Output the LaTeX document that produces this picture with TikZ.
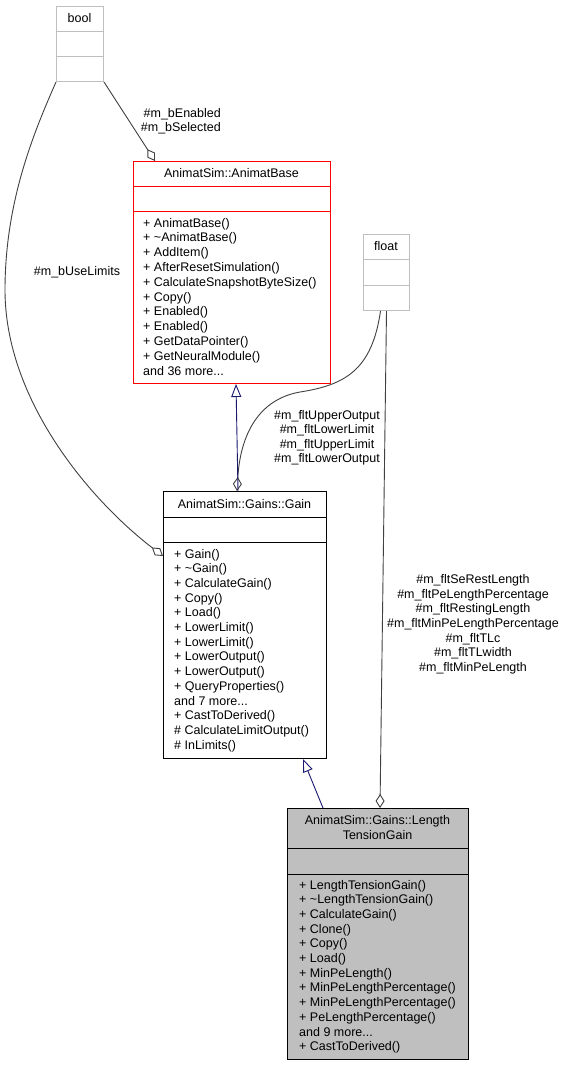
\documentclass[tikz,border=0pt]{standalone}
\usepackage{fontspec}
\setmainfont{Liberation Sans}
\usetikzlibrary{calc,arrows.meta}
\definecolor{edgegray}{HTML}{404040}
\definecolor{inh}{HTML}{191970}
\definecolor{boxgray}{HTML}{BFBFBF}
\newcommand\mydots{...}
\begin{document}
\begin{tikzpicture}[x=1bp,y=-1bp,
  txt/.style={inner sep=0pt, font=\fontsize{12.5bp}{14.7bp}\selectfont},
  mem/.style={txt, anchor=base west},
  ttl/.style={txt, anchor=base},
  cls/.style={draw, line width=1bp, anchor=north west, inner sep=0pt},
  agg/.style={draw=edgegray, line width=0.9bp, -{Diamond[open, length=14bp, width=9bp, fill=white]}},
  gen/.style={draw=inh, line width=0.9bp, -{Triangle[open, length=13bp, width=10bp, fill=white]}}]
\fill[white] (0,0) rectangle (565,1067);
\useasboundingbox (0,0) rectangle (565,1067);

% class boxes
\node[cls, draw=boxgray, minimum width=47bp, minimum height=75bp] (bool) at (56,6) {};
\node[cls, draw=red, minimum width=197bp, minimum height=222bp] (ab) at (133,161) {};
\node[cls, draw=boxgray, minimum width=46bp, minimum height=76bp] (float) at (363,234) {};
\node[cls, draw=black, minimum width=163bp, minimum height=267bp] (gain) at (163,491) {};
\node[cls, draw=black, fill=boxgray, minimum width=181bp, minimum height=251bp] (ltg) at (287,808) {};

% dividers
\foreach \d in {25,50} \draw[boxgray, line width=1bp] ($(bool.north west)+(0,\d)$) -- ($(bool.north east)+(0,\d)$);
\foreach \d in {25,50} \draw[red, line width=1bp] ($(ab.north west)+(0,\d)$) -- ($(ab.north east)+(0,\d)$);
\foreach \d in {25,51} \draw[boxgray, line width=1bp] ($(float.north west)+(0,\d)$) -- ($(float.north east)+(0,\d)$);
\foreach \d in {26,51} \draw[black, line width=1bp] ($(gain.north west)+(0,\d)$) -- ($(gain.north east)+(0,\d)$);
\foreach \d in {40,66} \draw[black, line width=1bp] ($(ltg.north west)+(0,\d)$) -- ($(ltg.north east)+(0,\d)$);

% titles
\node[ttl] (boolT) at (79.5,22.5) {bool};
\node[ttl] (abT) at (231.5,177.5) {AnimatSim::AnimatBase};
\node[ttl] (floatT) at (386,250.5) {float};
\node[ttl] (gainT) at (244.5,508) {AnimatSim::Gains::Gain};
\node[ttl] (ltgT1) at (377.5,824.5) {AnimatSim::Gains::Length};
\node[ttl] (ltgT2) at (377.5,839.5) {TensionGain};

% members
\foreach \t [count=\i from 0] in {+ AnimatBase(),+ \textasciitilde AnimatBase(),+ AddItem(),+ AfterResetSimulation(),+ CalculateSnapshotByteSize(),+ Copy(),+ Enabled(),+ Enabled(),+ GetDataPointer(),+ GetNeuralModule(),and 36 more\mydots}
  \node[mem] (abm-\i) at (143,227+14.8*\i) {\t};
\foreach \t [count=\i from 0] in {+ Gain(),+ \textasciitilde Gain(),+ CalculateGain(),+ Copy(),+ Load(),+ LowerLimit(),+ LowerLimit(),+ LowerOutput(),+ LowerOutput(),+ QueryProperties(),and 7 more\mydots,+ CastToDerived(),\# CalculateLimitOutput(),\# InLimits()}
  \node[mem] (gm-\i) at (174,558+14.7*\i) {\t};
\foreach \t [count=\i from 0] in {+ LengthTensionGain(),+ \textasciitilde LengthTensionGain(),+ CalculateGain(),+ Clone(),+ Copy(),+ Load(),+ MinPeLength(),+ MinPeLengthPercentage(),+ MinPeLengthPercentage(),+ PeLengthPercentage(),and 9 more\mydots,+ CastToDerived()}
  \node[mem] (lm-\i) at (299,889+14.7*\i) {\t};

% connectors
\draw[agg] (bool.south east) -- ($(ab.north west)+(22,0)$);
\draw[agg] (bool.south west) .. controls (35,130) and (5,200) .. (5,290)
  .. controls (5,400) and (90,500) .. ($(gain.north west)+(0,65)$);
\draw[agg] ($(float.south)+(-6,0)$) .. controls (372,370) and (345,385) .. (300,392)
  .. controls (255,400) and (240,440) .. ($(gain.north west)+(74,0)$);
\draw[agg] (float.south) -- ($(ltg.north west)+(93,0)$);
\draw[gen] ($(gain.north west)+(75,0)$) -- ($(ab.south west)+(103,0)$);
\draw[gen] ($(ltg.north west)+(36,0)$) -- ($(gain.south west)+(140,0)$);

% connector labels
\node[txt, anchor=base east] (lbE) at (221,117) {\#m\_bEnabled};
\node[txt, anchor=base east] (lbS) at (221,131.5) {\#m\_bSelected};
\node[ttl] (lbU) at (77,275.5) {\#m\_bUseLimits};
\foreach \t [count=\i from 0] in {\#m\_fltUpperOutput,\#m\_fltLowerLimit,\#m\_fltUpperLimit,\#m\_fltLowerOutput}
  \node[ttl] (lfg-\i) at (327,419.5+14.4*\i) {\t};
\foreach \t [count=\i from 0] in {\#m\_fltSeRestLength,\#m\_fltPeLengthPercentage,\#m\_fltRestingLength,\#m\_fltMinPeLengthPercentage,\#m\_fltTLc,\#m\_fltTLwidth,\#m\_fltMinPeLength}
  \node[ttl] (lfl-\i) at (473,583.5+14.65*\i) {\t};
\end{tikzpicture}
\end{document}
